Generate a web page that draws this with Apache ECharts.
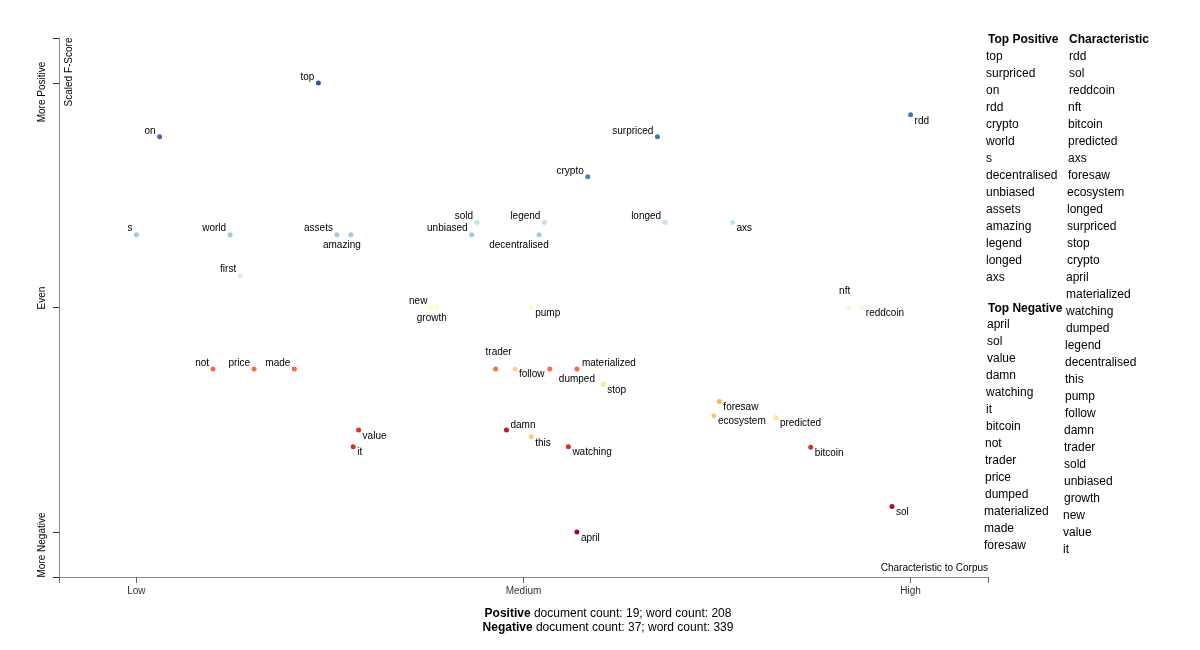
<!DOCTYPE html>
<html>
<head>
<meta charset="utf-8">
<script src="https://cdn.jsdelivr.net/npm/echarts/dist/echarts.min.js"></script>
<style>
html,body{margin:0;padding:0;background:#fff;}
#chart{width:1200px;height:650px;}
</style>
</head>
<body>
<div id="chart"></div>
<script>
// ---- data ----
const words = ['top','on','rdd','surpriced','crypto','s','world','assets','amazing','unbiased','decentralised','sold','legend','longed','axs','first','new','growth','pump','nft','reddcoin','not','price','made','trader','follow','dumped','materialized','stop','foresaw','ecosystem','predicted','value','it','damn','this','watching','bitcoin','sol','april'];
const charScores = [0.235,0.030,1.000,0.673,0.583,0.000,0.121,0.259,0.277,0.433,0.520,0.440,0.527,0.683,0.770,0.134,0.381,0.388,0.510,0.920,0.937,0.099,0.152,0.204,0.464,0.489,0.534,0.569,0.603,0.753,0.746,0.826,0.287,0.280,0.478,0.510,0.558,0.871,0.976,0.569];
const fScores = [1.000,0.880,0.929,0.880,0.791,0.662,0.662,0.662,0.662,0.662,0.662,0.689,0.689,0.689,0.689,0.571,0.500,0.500,0.500,0.500,0.500,0.363,0.363,0.363,0.363,0.363,0.363,0.363,0.329,0.291,0.259,0.255,0.227,0.190,0.227,0.212,0.190,0.189,0.057,0.000];
const colorScores = [0.96,0.92,0.90,0.90,0.88,0.73,0.73,0.73,0.73,0.73,0.73,0.66,0.66,0.66,0.66,0.62,0.52,0.52,0.48,0.55,0.55,0.20,0.20,0.20,0.20,0.38,0.20,0.20,0.42,0.31,0.34,0.41,0.10,0.10,0.05,0.36,0.10,0.10,0.03,0.01];

const xTickValues = [0, 0.5, 1];
const xTickLabels = ['Low', 'Medium', 'High'];
const yTickValues = [0, 0.5, 1];
const yTickLabels = ['More Negative', 'Even', 'More Positive'];

const topPositive = ['top','surpriced','on','rdd','crypto','world','s','decentralised','unbiased','assets','amazing','legend','longed','axs'];
const topNegative = ['april','sol','value','damn','watching','it','bitcoin','not','trader','price','dumped','materialized','made','foresaw'];
const characteristic = ['rdd','sol','reddcoin','nft','bitcoin','predicted','axs','foresaw','ecosystem','longed','surpriced','stop','crypto','april','materialized','watching','dumped','legend','decentralised','this','pump','follow','damn','trader','sold','unbiased','growth','new','value','it'];

const posDocCount = 19, posWordCount = 208;
const negDocCount = 37, negWordCount = 339;

// ---- styles ----
const FONT = 'Arial, "Liberation Sans", sans-serif';
const RdYlBu = ['#a50026','#d73027','#f46d43','#fdae61','#fee090','#ffffbf','#e0f3f8','#abd9e9','#74add1','#4575b4','#313695'];

const TL = {align:'right', verticalAlign:'bottom', offset:[-4,-1]};
const BR = {align:'left', verticalAlign:'top', offset:[4,1]};
const placeGroups = {
  tl: ['top','on','surpriced','crypto','s','world','assets','unbiased','sold','legend','longed','first','new','not','price','made'],
  br: ['rdd','axs','pump','reddcoin','stop','foresaw','ecosystem','predicted','value','it','this','watching','bitcoin','sol','april']
};
const customPlace = {
  amazing: {align:'center', verticalAlign:'top', offset:[-9,6]},
  decentralised: {align:'center', verticalAlign:'top', offset:[-20,6]},
  growth: {align:'center', verticalAlign:'top', offset:[-5,6]},
  nft: {align:'center', verticalAlign:'bottom', offset:[-4,-11]},
  trader: {align:'center', verticalAlign:'bottom', offset:[3,-12]},
  materialized: {align:'left', verticalAlign:'bottom', offset:[5,-1]},
  damn: {align:'left', verticalAlign:'bottom', offset:[4,0]},
  dumped: {align:'left', verticalAlign:'top', offset:[9,5]},
  follow: {align:'left', verticalAlign:'top', offset:[4,0]}
};
function placeFor(w){
  if (customPlace[w]) return customPlace[w];
  if (placeGroups.tl.indexOf(w) >= 0) return TL;
  return BR;
}

const seriesData = words.map((w, i) => {
  const p = placeFor(w);
  return {
    name: w,
    value: [charScores[i], fScores[i], colorScores[i]],
    label: {align: p.align, verticalAlign: p.verticalAlign, offset: p.offset}
  };
});

// ---- graphics (text panels) ----
const graphics = [];
function txt(x, y, text, opts) {
  graphics.push(Object.assign({
    type: 'text', x: x, y: y, silent: true,
    style: Object.assign({text: text, fill: '#000', font: '12px ' + FONT, textAlign: 'left', textVerticalAlign: 'middle'}, opts || {})
  }));
}
function rot(x, y, text, size) {
  graphics.push({
    type: 'text', x: x, y: y, rotation: Math.PI / 2, silent: true,
    style: {text: text, fill: '#000', font: size + 'px ' + FONT, textAlign: 'center', textVerticalAlign: 'middle'}
  });
}
rot(42.5, 92, yTickLabels[2], 10);
rot(42.5, 298, yTickLabels[1], 10);
rot(42.5, 545, yTickLabels[0], 10);
rot(69, 72, 'Scaled F-Score', 10);
txt(988, 568, 'Characteristic to Corpus', {font: '10px ' + FONT, textAlign: 'right'});

txt(988, 40, 'Top Positive', {font: 'bold 12px ' + FONT});
topPositive.forEach((w, i) => txt(986, 57 + 17 * i, w));
txt(988, 309, 'Top Negative', {font: 'bold 12px ' + FONT});
topNegative.forEach((w, i) => txt(987 - Math.round(i * 3 / 13), 325 + 17 * i, w));
txt(1069, 40, 'Characteristic', {font: 'bold 12px ' + FONT});
characteristic.forEach((w, i) => txt(1069 - Math.round(i * 6 / 29), 57 + 17 * i, w));

graphics.push({
  type: 'text', x: 608, y: 614, silent: true,
  style: {
    text: '{b|Positive} document count: ' + posDocCount + '; word count: ' + posWordCount,
    font: '12px ' + FONT, fill: '#000', textAlign: 'center', textVerticalAlign: 'middle',
    rich: {b: {font: 'bold 12px ' + FONT, fill: '#000'}}
  }
});
graphics.push({
  type: 'text', x: 608, y: 628, silent: true,
  style: {
    text: '{b|Negative} document count: ' + negDocCount + '; word count: ' + negWordCount,
    font: '12px ' + FONT, fill: '#000', textAlign: 'center', textVerticalAlign: 'middle',
    rich: {b: {font: 'bold 12px ' + FONT, fill: '#000'}}
  }
});

const chart = echarts.init(document.getElementById('chart'), null, {renderer: 'canvas'});
chart.setOption({
  animation: false,
  backgroundColor: '#fff',
  grid: {left: 59, right: 212, top: 38, bottom: 73, containLabel: false},
  xAxis: {
    type: 'value', min: -0.1, max: 1.1,
    splitLine: {show: false},
    axisLine: {show: true, onZero: false, lineStyle: {color: '#888', width: 1}},
    axisTick: {show: true, length: 6, customValues: [-0.1].concat(xTickValues, [1.1]), lineStyle: {color: '#666'}},
    axisLabel: {
      show: true, customValues: xTickValues, margin: 9,
      formatter: v => xTickLabels[xTickValues.indexOf(Math.round(v * 10) / 10)] || '',
      color: '#333', fontSize: 10, fontFamily: FONT
    }
  },
  yAxis: {
    type: 'value', min: -0.1, max: 1.1,
    splitLine: {show: false},
    axisLine: {show: true, onZero: false, lineStyle: {color: '#888', width: 1}},
    axisTick: {show: true, length: 6, customValues: [-0.1].concat(yTickValues, [1.1]), lineStyle: {color: '#333'}},
    axisLabel: {show: false}
  },
  visualMap: {
    show: false, type: 'continuous', dimension: 2, min: 0, max: 1, seriesIndex: 0,
    inRange: {color: RdYlBu}
  },
  series: [{
    type: 'scatter',
    symbol: 'circle',
    symbolSize: 5,
    data: seriesData,
    itemStyle: {opacity: 1},
    label: {
      show: true, position: 'inside',
      formatter: p => p.name,
      color: '#000', fontSize: 10, fontFamily: FONT
    },
    emphasis: {disabled: true}
  }],
  graphic: graphics
});
</script>
</body>
</html>
